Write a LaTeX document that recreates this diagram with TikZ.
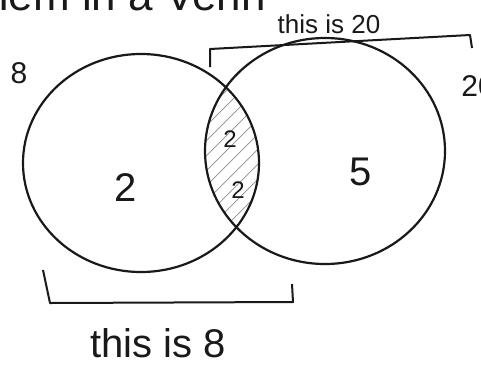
\documentclass[tikz,border=0pt]{standalone}
\usepackage{fontspec}
\setmainfont{Liberation Sans}
\usetikzlibrary{positioning}
\colorlet{ink}{black!90}
\colorlet{hatch}{black!45}
\tikzset{
  setline/.style={ink, line width=2.2pt},
  brace/.style={ink, line width=2pt, line join=round},
  num/.style={ink, font=\fontsize{40}{42}\selectfont},
  small/.style={ink, font=\fontsize{24}{26}\selectfont},
  note/.style={ink, font=\fontsize{30}{32}\selectfont}
}

\begin{document}
\begin{tikzpicture}[x=1pt, y=-1pt]
  \useasboundingbox (0, 0) rectangle (481, 365);
  \clip (0, 0) rectangle (481, 365);

  % heading, cut by the top edge
  \node[ink, font=\fontsize{44}{46}\selectfont, anchor=base west, inner sep=0pt] (heading) at (-28, 10) {them in a Venn};

  % shaded overlap
  \begin{scope}
    \clip (141, 163) ellipse [x radius=118, y radius=109];
    \clip (325, 151) ellipse [x radius=120, y radius=113];
    \foreach \s in {40, 55, ..., 230} {
      \draw[hatch, line width=0.7pt] (\s, 262) -- ++(200, -200);
    };
  \end{scope}

  % the two sets
  \draw[setline] (141, 163) ellipse [x radius=118, y radius=109];
  \draw[setline] (325, 151) ellipse [x radius=120, y radius=113];

  % counts
  \node[note] (totalA) at (19, 73) {8};
  \node[num] (onlyA) at (126, 188) {2};
  \node[small] (bothA) at (230, 139) {2};
  \node[small] (bothB) at (238, 190) {2};
  \node[num] (onlyB) at (361, 172) {5};
  \node[note] (totalB) at (478, 86) {20};

  % bracket under A
  \coordinate (a1) at (43, 270);
  \coordinate (a2) at (50, 303);
  \coordinate (a3) at (293, 302);
  \coordinate (a4) at (292, 284);
  \draw[brace] (a1) -- (a2) -- (a3) -- (a4);
  \node[ink, font=\fontsize{40}{42}\selectfont, anchor=base, inner sep=0pt] (labelA) at (158, 357) {this is 8};

  % bracket over B
  \coordinate (b1) at (210, 67);
  \coordinate (b2) at (210, 49);
  \coordinate (b3) at (470, 35);
  \coordinate (b4) at (472, 48);
  \draw[brace] (b1) -- (b2) -- (b3) -- (b4);
  \node[ink, font=\fontsize{26}{28}\selectfont, anchor=base, inner sep=0pt] (labelB) at (329, 33) {this is 20};

\end{tikzpicture}
\end{document}
